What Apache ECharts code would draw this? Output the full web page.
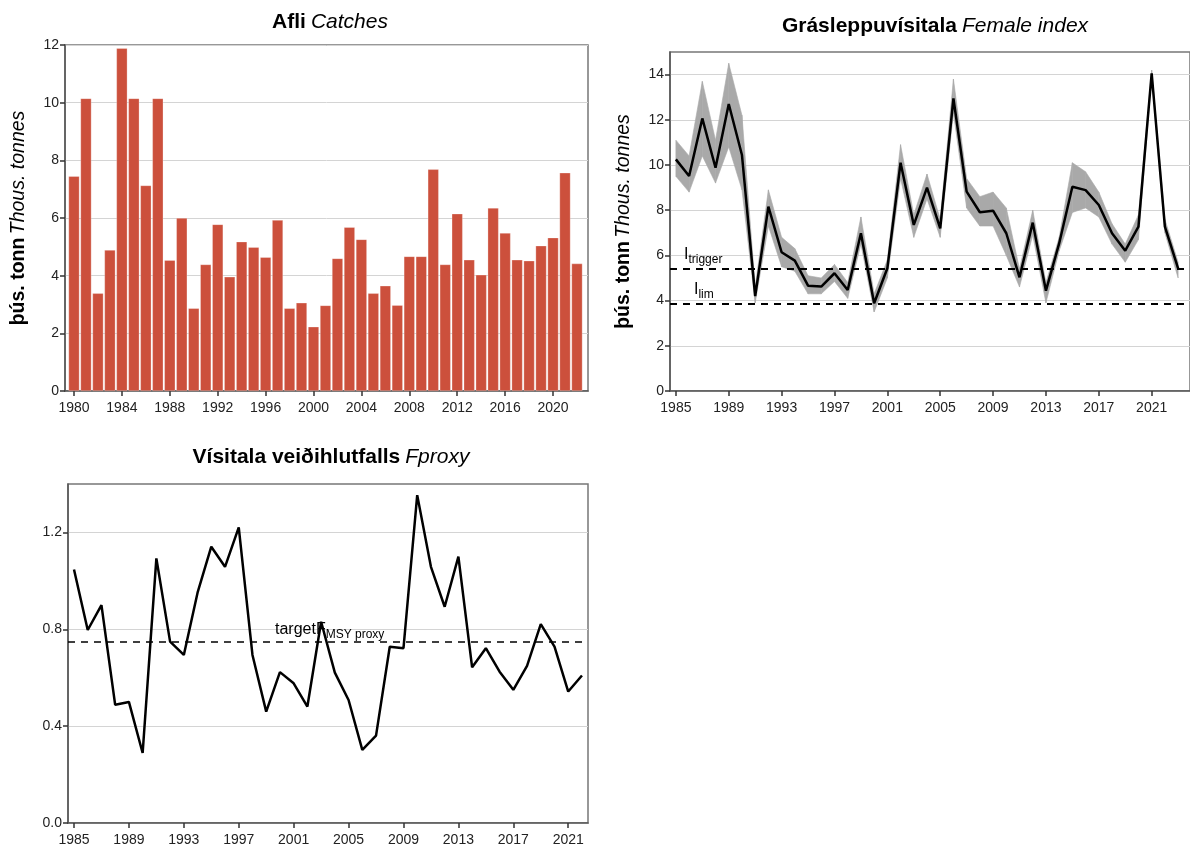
<!DOCTYPE html>
<html>
<head>
<meta charset="utf-8">
<script src="https://cdn.jsdelivr.net/npm/echarts@6/dist/echarts.min.js"></script>
<style>
  html, body { margin: 0; padding: 0; background: #fff; }
  #chart { width: 1190px; height: 847px; }
</style>
</head>
<body>
<div id="chart"></div>
<script>
// catches (thous. tonnes)
const catchYears = [1980,1981,1982,1983,1984,1985,1986,1987,1988,1989,1990,1991,1992,1993,1994,1995,1996,1997,1998,1999,2000,2001,2002,2003,2004,2005,2006,2007,2008,2009,2010,2011,2012,2013,2014,2015,2016,2017,2018,2019,2020,2021,2022]
const catches = [7.45,10.15,3.39,4.89,11.89,10.15,7.13,10.15,4.54,6.0,2.87,4.39,5.78,3.96,5.18,4.99,4.64,5.93,2.87,3.06,2.23,2.97,4.60,5.68,5.26,3.39,3.65,2.98,4.67,4.67,7.69,4.39,6.15,4.55,4.03,6.35,5.48,4.55,4.52,5.04,5.32,7.57,4.42]

// female index with confidence band
const indexYears = [1985,1986,1987,1988,1989,1990,1991,1992,1993,1994,1995,1996,1997,1998,1999,2000,2001,2002,2003,2004,2005,2006,2007,2008,2009,2010,2011,2012,2013,2014,2015,2016,2017,2018,2019,2020,2021,2022,2023]
const femaleIndex = [10.25,9.51,12.06,9.88,12.70,10.44,4.20,8.16,6.14,5.77,4.66,4.62,5.21,4.47,6.98,3.88,5.43,10.10,7.35,9.0,7.20,12.95,8.82,7.91,7.98,6.98,5.03,7.45,4.44,6.53,9.04,8.89,8.23,6.98,6.21,7.27,14.06,7.27,5.43]
const indexLower = [9.5,8.8,10.4,9.2,10.8,8.9,3.9,7.3,5.5,5.3,4.3,4.3,4.85,4.1,6.5,3.5,5.0,9.4,6.8,8.5,6.8,12.3,8.1,7.3,7.3,6.0,4.6,6.9,3.9,6.2,7.9,8.1,7.7,6.5,5.7,6.7,13.9,7.0,5.0]
const indexUpper = [11.1,10.4,13.7,11.1,14.5,12.2,4.6,8.9,6.8,6.3,5.1,5.0,5.6,4.8,7.7,4.3,5.8,10.9,7.8,9.6,7.6,13.8,9.4,8.6,8.8,8.1,5.4,8.0,4.8,6.8,10.1,9.7,8.8,7.4,6.5,7.8,14.2,7.6,5.7]
const iTrigger = 5.40
const iLim = 3.85

// fishing proxy
const fYears = [1985,1986,1987,1988,1989,1990,1991,1992,1993,1994,1995,1996,1997,1998,1999,2000,2001,2002,2003,2004,2005,2006,2007,2008,2009,2010,2011,2012,2013,2014,2015,2016,2017,2018,2019,2020,2021,2022]
const fProxy = [1.047,0.797,0.90,0.488,0.50,0.289,1.093,0.749,0.694,0.951,1.141,1.058,1.221,0.694,0.46,0.623,0.577,0.481,0.831,0.621,0.508,0.302,0.361,0.728,0.722,1.354,1.058,0.893,1.10,0.643,0.722,0.625,0.55,0.649,0.821,0.728,0.543,0.609]
const fTarget = 0.75

const catchTicks = [1980,1984,1988,1992,1996,2000,2004,2008,2012,2016,2020]
const indexTicks = [1985,1989,1993,1997,2001,2005,2009,2013,2017,2021]
const fTicks = [1985,1989,1993,1997,2001,2005,2009,2013,2017,2021]

const font = 'Liberation Sans, Arial, sans-serif'
const axisCol = '#555'

function xAxis (grid, min, max, ticks) {
  return {
    type: 'value', gridIndex: grid, min: min, max: max,
    axisLine: { show: true, lineStyle: { color: axisCol, width: 1.5 } },
    axisTick: { show: true, length: 5, customValues: ticks, lineStyle: { color: '#333', width: 1.5 } },
    axisLabel: { customValues: ticks, color: '#222', fontSize: 14, fontFamily: font, margin: 10, formatter: v => String(v) },
    splitLine: { show: false }
  }
}

function yAxis (grid, max, ticks, name, fmt) {
  return {
    type: 'value', gridIndex: grid, min: 0, max: max,
    name: name, nameLocation: 'middle', nameRotate: 90, nameGap: 36,
    nameTextStyle: {
      rich: {
        b: { fontWeight: 'bold', fontSize: 19.5, fontFamily: font, color: '#000' },
        i: { fontStyle: 'italic', fontWeight: 'normal', fontSize: 19.5, fontFamily: font, color: '#000' }
      }
    },
    axisLine: { show: true, lineStyle: { color: axisCol, width: 1.5 } },
    axisTick: { show: true, length: 5, customValues: ticks, lineStyle: { color: '#333', width: 1.5 } },
    axisLabel: { customValues: ticks, color: '#222', fontSize: 14, fontFamily: font, margin: 6, formatter: fmt },
    splitLine: { show: true, lineStyle: { color: '#d4d4d4', width: 1 } }
  }
}

const titleRich = {
  b: { fontWeight: 'bold', fontSize: 21, fontFamily: font, color: '#000' },
  i: { fontStyle: 'italic', fontWeight: 'normal', fontSize: 21, fontFamily: font, color: '#000' }
}
const subRich = {
  n: { fontSize: 16, fontFamily: font, color: '#000' },
  s: { fontSize: 12, fontFamily: font, color: '#000', padding: [10, 0, 0, 0] }
}

const chart = echarts.init(document.getElementById('chart'))
chart.setOption({
  animation: false,
  title: [
    { text: '{b|Afli} {i|Catches}', left: 325, top: 7, textAlign: 'center', textStyle: { rich: titleRich } },
    { text: '{b|Grásleppuvísitala} {i|Female index}', left: 930, top: 11, textAlign: 'center', textStyle: { rich: titleRich } },
    { text: '{b|Vísitala veiðihlutfalls} {i|Fproxy}', left: 326, top: 442, textAlign: 'center', textStyle: { rich: titleRich } }
  ],
  grid: [
    { left: 65, top: 45, width: 523, height: 346, show: true, borderColor: '#777', borderWidth: 1.5 },
    { left: 670, top: 52, width: 530, height: 339, show: true, borderColor: '#777', borderWidth: 1.5 },
    { left: 68, top: 484, width: 520, height: 339, show: true, borderColor: '#777', borderWidth: 1.5 }
  ],
  xAxis: [
    xAxis(0, 1979.25, 2022.92, catchTicks),
    xAxis(1, 1984.555, 2023.9, indexTicks),
    xAxis(2, 1984.563, 2022.44, fTicks)
  ],
  yAxis: [
    yAxis(0, 12, [0,2,4,6,8,10,12], '{b|þús. tonn} {i|Thous. tonnes}'),
    yAxis(1, 15, [0,2,4,6,8,10,12,14], '{b|þús. tonn} {i|Thous. tonnes}'),
    yAxis(2, 1.4, [0,0.4,0.8,1.2], '', v => v.toFixed(1))
  ],
  series: [
    {
      type: 'bar', xAxisIndex: 0, yAxisIndex: 0, barWidth: 11,
      data: catchYears.map((y, i) => [y, catches[i]]),
      itemStyle: { color: '#cc503c', borderColor: 'rgba(255,255,255,0.45)', borderWidth: 0.6 }
    },
    {
      // confidence band, one quad per year-to-year segment
      type: 'custom', xAxisIndex: 1, yAxisIndex: 1, silent: true,
      data: indexYears.slice(0, -1).map((y, i) => [y, indexYears[i + 1], indexLower[i], indexUpper[i], indexLower[i + 1], indexUpper[i + 1]]),
      encode: { x: [0, 1], y: [2, 3, 4, 5] },
      renderItem: (params, api) => {
        const x0 = api.value(0), x1 = api.value(1)
        const pts = [
          api.coord([x0, api.value(2)]),
          api.coord([x1, api.value(4)]),
          api.coord([x1, api.value(5)]),
          api.coord([x0, api.value(3)])
        ]
        return { type: 'polygon', shape: { points: pts }, style: { fill: '#a9a9a9', stroke: '#a9a9a9', lineWidth: 0.6 } }
      }
    },
    {
      type: 'line', xAxisIndex: 1, yAxisIndex: 1, symbol: 'none',
      data: indexYears.map((y, i) => [y, femaleIndex[i]]),
      lineStyle: { color: '#000', width: 2.5 },
      markLine: {
        symbol: 'none', silent: true,
        lineStyle: { color: '#000', width: 2, type: [7, 6] },
        data: [
          { yAxis: iTrigger, label: { show: true, position: 'insideStartTop', distance: [14, 3], formatter: '{n|I}{s|trigger}', rich: subRich } },
          { yAxis: iLim, label: { show: true, position: 'insideStartTop', distance: [24, 3], formatter: '{n|I}{s|lim}', rich: subRich } }
        ]
      }
    },
    {
      type: 'line', xAxisIndex: 2, yAxisIndex: 2, symbol: 'none',
      data: fYears.map((y, i) => [y, fProxy[i]]),
      lineStyle: { color: '#000', width: 2.5 },
      markLine: {
        symbol: 'none', silent: true,
        lineStyle: { color: '#000', width: 1.6, type: [7, 6] },
        data: [
          { yAxis: fTarget, label: { show: true, position: 'insideStartTop', distance: [207, 1], formatter: '{n|targetF}{s|MSY proxy}', rich: subRich } }
        ]
      }
    }
  ]
})
</script>
</body>
</html>
